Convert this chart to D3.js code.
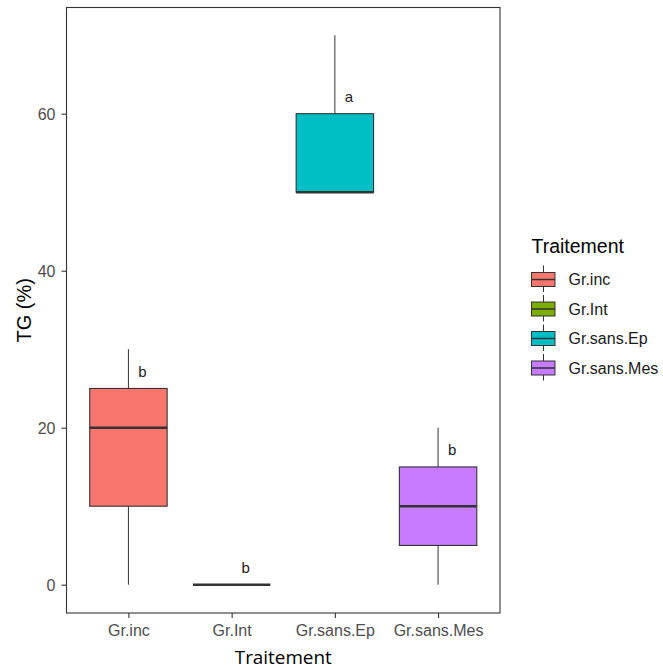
<!DOCTYPE html>
<meta charset="utf-8">
<style>
body { margin: 0; background: #fff; }
svg { font-family: "Liberation Sans", Arial, sans-serif; }
.tick text { fill: #4d4d4d; font-size: 16px; }
.tick line { stroke: #333; stroke-width: 1.1; }
</style>
<svg width="663" height="670"></svg>
<script src="https://d3js.org/d3.v7.min.js"></script>
<script>

// data
var groups = ["Gr.inc", "Gr.Int", "Gr.sans.Ep", "Gr.sans.Mes"];
var ymin   = [0, 0, 50, 0];
var q1     = [10, 0, 50, 5];
var median = [20, 0, 50, 10];
var q3     = [25, 0, 60, 15];
var ymax   = [30, 0, 70, 20];
var letters = ["b", "b", "a", "b"];
var colors = ["#F8766D", "#7CAE00", "#00BFC4", "#C77CFF"];
var yTicks = [0, 20, 40, 60];

var svg = d3.select("svg");
var panel = {left: 66.5, top: 7.5, right: 500, bottom: 613};

// ggplot-like discrete axis: 0.6 units of padding on each side
var x = d3.scalePoint()
    .domain(groups)
    .range([panel.left, panel.right])
    .padding(0.6);
var bw = x.step() * 0.75;

var y = d3.scaleLinear()
    .domain([0, 60])
    .range([584.7, 113.7]);

var color = d3.scaleOrdinal().domain(groups).range(colors);

// panel border
svg.append("rect")
    .attr("x", panel.left)
    .attr("y", panel.top)
    .attr("width", panel.right - panel.left)
    .attr("height", panel.bottom - panel.top)
    .attr("fill", "none")
    .attr("stroke", "#333")
    .attr("stroke-width", 1.1);

// axes
svg.append("g")
    .attr("transform", "translate(0," + panel.bottom + ")")
    .call(d3.axisBottom(x).tickSize(5).tickPadding(7))
    .call(g => g.select(".domain").remove());

svg.append("g")
    .attr("transform", "translate(" + panel.left + ",0)")
    .call(d3.axisLeft(y).tickValues(yTicks).tickSize(5).tickPadding(6))
    .call(g => g.select(".domain").remove())
    .selectAll("text").attr("dy", "0.36em");

var rows = groups.map(function(g, i) {
  return {g: g, min: ymin[i], q1: q1[i], med: median[i], q3: q3[i], max: ymax[i], lab: letters[i]};
});

var box = svg.append("g").selectAll("g")
    .data(rows)
    .enter().append("g");

// whiskers
box.append("line")
    .attr("x1", d => x(d.g))
    .attr("x2", d => x(d.g))
    .attr("y1", d => y(d.max))
    .attr("y2", d => y(d.q3))
    .attr("stroke", "#333");
box.append("line")
    .attr("x1", d => x(d.g))
    .attr("x2", d => x(d.g))
    .attr("y1", d => y(d.q1))
    .attr("y2", d => y(d.min))
    .attr("stroke", "#333");

box.append("rect")
    .attr("x", d => x(d.g) - bw / 2)
    .attr("width", bw)
    .attr("y", d => y(d.q3))
    .attr("height", d => y(d.q1) - y(d.q3))
    .attr("fill", d => color(d.g))
    .attr("stroke", "#333")
    .attr("stroke-width", 1.1);

box.append("line")
    .attr("x1", d => x(d.g) - bw / 2)
    .attr("x2", d => x(d.g) + bw / 2)
    .attr("y1", d => y(d.med))
    .attr("y2", d => y(d.med))
    .attr("stroke", "#333")
    .attr("stroke-width", 2.4);

box.append("text")
    .attr("x", d => x(d.g) + 14)
    .attr("y", d => y(d.q3 + 1.5))
    .attr("text-anchor", "middle")
    .attr("font-size", 15)
    .attr("fill", "#1a1a1a")
    .text(d => d.lab);

// axis titles
svg.append("text")
    .attr("x", (panel.left + panel.right) / 2)
    .attr("y", 664)
    .attr("text-anchor", "middle")
    .attr("font-family", "'Open Sans', sans-serif")
    .attr("font-size", 19)
    .attr("textLength", 97)
    .attr("lengthAdjust", "spacingAndGlyphs")
    .text("Traitement");

svg.append("text")
    .attr("transform", "translate(31," + (panel.top + panel.bottom) / 2 + ") rotate(-90)")
    .attr("text-anchor", "middle")
    .attr("font-size", 20)
    .text("TG (%)");

// legend
var legend = svg.append("g").attr("transform", "translate(531.5,0)");
legend.append("text")
    .attr("x", 0)
    .attr("y", 253)
    .attr("font-size", 19.5)
    .text("Traitement");

var key = legend.selectAll("g.key")
    .data(groups)
    .enter().append("g")
    .attr("class", "key")
    .attr("transform", (d, i) => "translate(0," + (279.5 + i * 29.5) + ")");

key.append("line")
    .attr("x1", 12).attr("x2", 12)
    .attr("y1", -14).attr("y2", 12.5)
    .attr("stroke", "#333");
key.append("rect")
    .attr("x", 0).attr("y", -7)
    .attr("width", 23.5).attr("height", 14)
    .attr("fill", d => color(d))
    .attr("stroke", "#333");
key.append("line")
    .attr("x1", 0).attr("x2", 23.5)
    .attr("y1", 0).attr("y2", 0)
    .attr("stroke", "#333")
    .attr("stroke-width", 1.5);
key.append("text")
    .attr("x", 37)
    .attr("y", 0)
    .attr("dy", "0.36em")
    .attr("font-size", 16)
    .attr("fill", "#1a1a1a")
    .text(d => d);

</script>
